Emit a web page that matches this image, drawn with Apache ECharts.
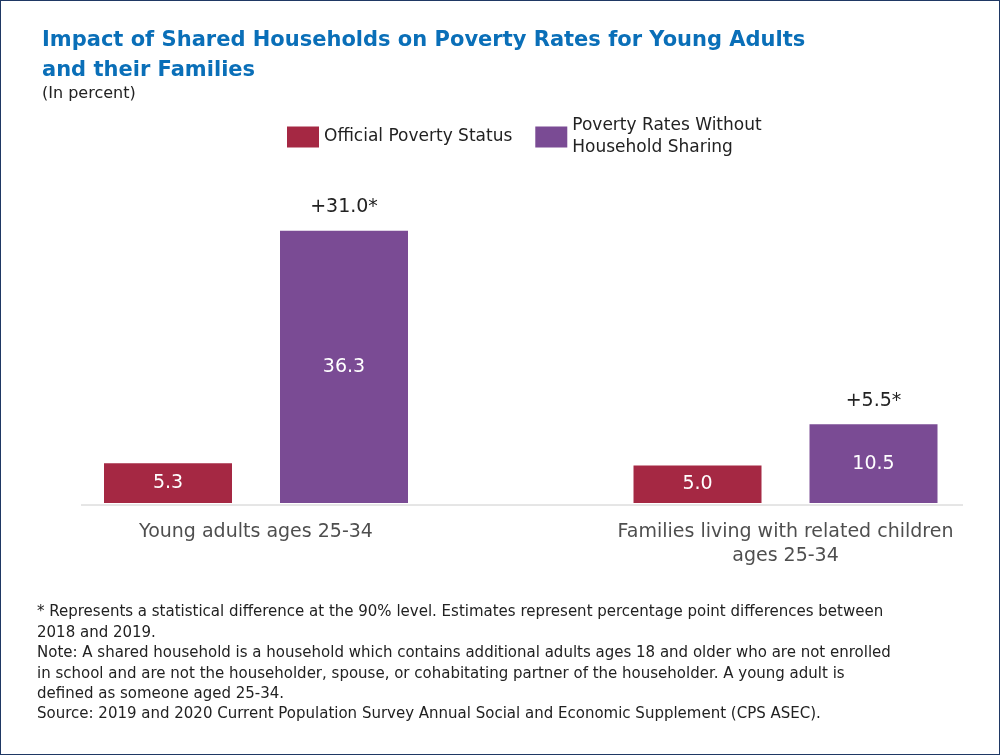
<!DOCTYPE html>
<html><head><meta charset="utf-8">
<script src="https://cdn.jsdelivr.net/npm/echarts@6/dist/echarts.min.js"></script>
<style>html,body{margin:0;padding:0;background:#fff}#c{width:998px;height:753px;border:1px solid #1f3864}</style>
</head><body><div id="c"></div>
<script>
const categories = ['Young adults ages 25-34', 'Families living with related children\nages 25-34'];
const official = [5.3, 5.0];
const withoutSharing = [36.3, 10.5];
const differences = ['+31.0*', '+5.5*'];
const seriesNames = ['Official Poverty Status', 'Poverty Rates Without Household Sharing'];
const F = 'DejaVu Sans';
const idx = (arr) => arr.map((v, i) => [i, v]);
const chart = echarts.init(document.getElementById('c'));
const barCommon = {barWidth: 128, barGap: '37.5%'};
const xa = {type: 'value', min: -0.3305, max: 1.3352, show: false, splitLine: {show: false}};
chart.setOption({
  textStyle: {fontFamily: F},
  title: [
    {text: 'Impact of Shared Households on Poverty Rates for Young Adults\nand their Families', left: 36, top: 20,
     textStyle: {color: '#0a6fb8', fontSize: 21, fontWeight: 'bold', lineHeight: 30, fontFamily: F}},
    {text: '(In percent)', left: 36, top: 80, textStyle: {color: '#222', fontSize: 16, fontWeight: 'normal', fontFamily: F}}
  ],
  legend: {left: 281, top: 109, itemWidth: 32, itemHeight: 21, itemGap: 23, icon: 'rect',
    data: seriesNames,
    formatter: n => n === seriesNames[1] ? 'Poverty Rates Without\nHousehold Sharing' : n,
    textStyle: {fontSize: 17, color: '#222', lineHeight: 22, fontFamily: F}},
  grid: {left: 80, right: 36, top: 202, bottom: 251},
  xAxis: [xa, Object.assign({}, xa)],
  yAxis: {type: 'value', min: 0, max: 40, show: false, splitLine: {show: false}},
  graphic: [
    {type: 'line', shape: {x1: 80, y1: 504, x2: 962, y2: 504}, style: {stroke: '#ccc', lineWidth: 1}},
    {type: 'text', left: 36, top: 601, style: {fontFamily: F, fontSize: 15, fill: '#222', lineHeight: 20.5,
      text: '* Represents a statistical difference at the 90% level. Estimates represent percentage point differences between\n2018 and 2019.\nNote: A shared household is a household which contains additional adults ages 18 and older who are not enrolled\nin school and are not the householder, spouse, or cohabitating partner of the householder. A young adult is\ndefined as someone aged 25-34.'}},
    {type: 'text', left: 36, top: 706, style: {fontFamily: F, fontSize: 15, fill: '#222',
      text: 'Source: 2019 and 2020 Current Population Survey Annual Social and Economic Supplement (CPS ASEC).'}}
  ],
  series: [
    Object.assign({name: seriesNames[0], type: 'bar', data: idx(official), itemStyle: {color: '#a52843'},
      label: {show: true, position: 'inside', color: '#fff', fontSize: 19, formatter: p => p.value[1].toFixed(1)}}, barCommon),
    Object.assign({name: seriesNames[1], type: 'bar', data: idx(withoutSharing), itemStyle: {color: '#7a4b94'},
      label: {show: true, position: 'inside', color: '#fff', fontSize: 19, formatter: p => p.value[1].toFixed(1)}}, barCommon),
    Object.assign({type: 'bar', xAxisIndex: 1, data: idx(official), itemStyle: {color: 'transparent'}, silent: true}, barCommon),
    Object.assign({type: 'bar', xAxisIndex: 1, data: idx(withoutSharing), itemStyle: {color: 'transparent'}, silent: true,
      label: {show: true, position: 'top', distance: 14, color: '#222', fontSize: 19, formatter: p => differences[p.dataIndex]}}, barCommon),
    {type: 'scatter', data: categories.map((c, i) => [i, 0]), symbolSize: 0, silent: true,
      label: {show: true, position: 'bottom', distance: 17, color: '#222', fontSize: 19, lineHeight: 24, align: 'center',
        formatter: p => categories[p.dataIndex]}}
  ]
});
</script></body></html>
